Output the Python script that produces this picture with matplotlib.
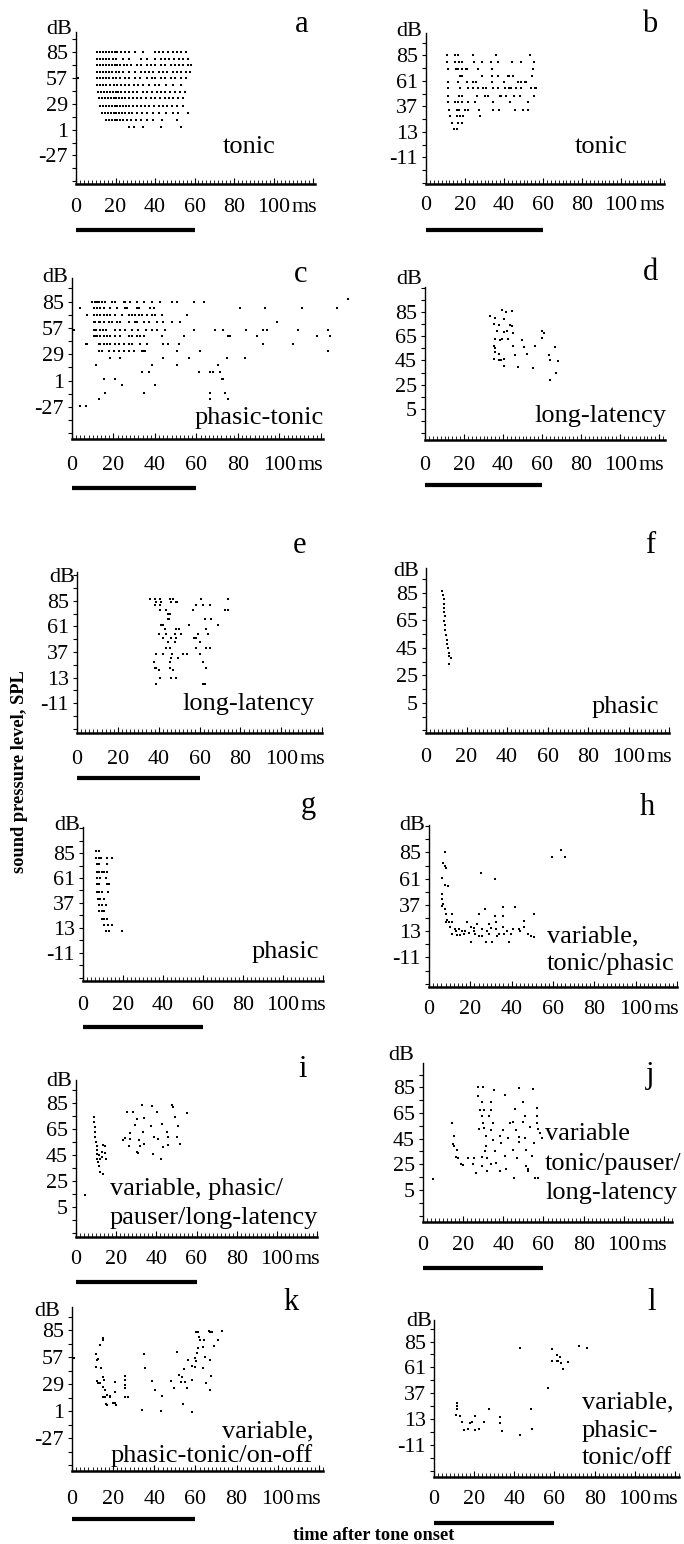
import matplotlib
matplotlib.use("Agg")
import matplotlib.pyplot as plt
from matplotlib.ticker import MultipleLocator
from matplotlib.transforms import blended_transform_factory

plt.rcParams['font.family'] = ['Liberation Serif', 'DejaVu Serif']

# ------------------------------------------------------------------ data
# panel a (tonic): rows of spikes at each SPL level
a_levels = [85, 78, 71, 64, 57, 50, 42, 35, 27, 19, 12, 4]
a_times = [
    [10.5, 12, 13.5, 15, 16.5, 18, 19.5, 21, 23, 25, 27, 30, 34, 40, 42, 44, 46.5, 49, 51, 53, 55.5],
    [10.5, 12, 13.5, 15, 16.5, 18.5, 20.5, 24, 27, 33, 36, 40, 43, 45, 47, 49.5, 52, 54, 56.5],
    [10.5, 12, 13.5, 15, 16.5, 18, 19.5, 21, 22.5, 24.5, 26, 28, 31, 33, 36, 38, 40, 43, 45, 48, 50, 52, 54, 56.5, 58],
    [10.5, 12, 13.5, 15, 16.5, 18, 20, 22, 24, 27, 30, 33, 35, 37, 39, 42, 44, 46, 49, 51, 53, 55.5, 57.5],
    [1, 10.5, 12, 13.5, 15, 16.5, 18.5, 20.5, 22.5, 25, 27, 30, 32.5, 36, 38.5, 40, 43, 45, 48, 50, 53, 55.5],
    [10.5, 12, 13.5, 15, 17, 19, 21, 23, 25, 27, 29.5, 31.5, 34, 37, 40, 42, 45.5, 49, 53],
    [11, 12.5, 14, 15.5, 17, 18.5, 20, 21.5, 23, 25, 27, 29, 31, 34, 36, 38.5, 41, 43, 45, 47.5, 50, 52.5, 55],
    [11.5, 13, 14.5, 16, 17.5, 19, 20.5, 22, 23.5, 25, 27, 29, 31, 33, 35.5, 38, 40, 42.5, 45, 47, 49, 51.5, 54],
    [12, 13.5, 15, 16.5, 18, 19.5, 21, 22.5, 24, 25.5, 27, 29, 31, 33, 35, 37, 39.5, 42, 44, 46, 48.5, 51, 54],
    [13, 14.5, 16, 17.5, 19, 20.5, 22, 23.5, 25, 27, 28.5, 31, 33.5, 36, 39, 42, 45.5, 49, 51.5, 56.5],
    [15, 16.5, 18, 19.5, 21, 22.5, 24, 26, 28, 30.5, 33, 36, 39, 43.5, 51],
    [27, 29.5, 34, 43, 53],
]

# panel b (tonic)
b_levels = [85, 79, 72, 66, 60, 54, 47, 41, 34, 28, 21, 16]
b_times = [
    [10.7, 14.9, 16.6, 24.2, 36.1, 53.1],
    [10.7, 14.9, 16.9, 18.3, 24.7, 28.5, 33.2, 36.9, 44.1, 48.8, 55.3],
    [11.2, 15.3, 16.6, 18.6, 20.3, 20.8, 26.8, 33.9, 54.7],
    [17.5, 18.3, 28.5, 33.9, 36.9, 42, 42.4, 44.6, 54.2],
    [11.5, 16.6, 20.8, 24.2, 25.4, 33.9, 40, 47.1, 48.8, 50.5, 51.4],
    [11.2, 17.5, 21.4, 23.9, 26.8, 29.3, 31, 34.4, 36.9, 40.3, 42.4, 43.7, 46.3, 48.8, 53.6, 55.9, 56.4],
    [11.2, 16.9, 18.3, 25.9, 30.2, 31.9, 37.8, 38.6, 41.2, 45.1, 48, 55.6],
    [11.5, 14.9, 16.6, 18.6, 21.7, 25.1, 34.4, 42.9, 52.2],
    [11.9, 15.8, 16.9, 20, 21.7, 27.1, 34.4, 37.3, 45.4, 49.7, 52.5],
    [12.4, 15.8, 17.5, 19.2, 27.6],
    [13.2, 16.6, 18.6],
    [14.6, 15.8],
]

# panel c (phasic-tonic)
c_levels = [88, 85, 78, 71, 63, 55, 48, 40, 32, 25.5, 17.5, 10.5, 3, -4, -12, -19, -26]
c_times = [
    [133],
    [9.6, 11.2, 12, 12.8, 14.4, 16, 19.3, 20.9, 24.9, 25.7, 28.1, 31.3, 34.5, 38.5, 42.5, 48.2, 50.6, 58.6, 63.4],
    [4, 10.4, 12, 13.6, 15.2, 18.5, 21.7, 25.7, 26.5, 31.3, 32.1, 37.7, 39.3, 81, 93, 110.8, 127.6],
    [7.2, 10.4, 12, 13.6, 15.2, 16.9, 18.5, 20.9, 24.1, 27.3, 28.9, 30.5, 32.1, 33.7, 36.1, 38.5, 40.1, 43.3, 55.4],
    [10.4, 11.2, 12.8, 13.6, 15.2, 17.7, 19.3, 21.7, 23.3, 27.3, 30.5, 31.3, 34.5, 36.9, 40.9, 44.1, 48.2, 52.2, 98.7],
    [1.1, 10.5, 11.8, 13.4, 15, 16.6, 20.7, 23.1, 25.5, 28.7, 31.9, 35.9, 38.4, 40.8, 44.8, 58.6, 69, 73, 84, 92.3, 94, 109, 123.6],
    [10.4, 11.2, 12, 13.6, 15.2, 16.8, 18.5, 20.9, 23.3, 27.3, 28.9, 31.3, 32.9, 34.5, 43.3, 53.8, 75.4, 76.2, 89, 118, 124.4],
    [6.6, 7.2, 12.8, 13.6, 15.2, 16.8, 18.5, 20.9, 22.5, 24.9, 27.3, 28.9, 32.9, 36.1, 44.1, 46.5, 51.4, 92.3, 106.7],
    [12.8, 14.4, 17.7, 20.1, 22.5, 24.9, 27.3, 29.7, 33.7, 34.5, 35.3, 50.6, 61.5, 123.6],
    [18.5, 23.3, 44.1, 56.2, 74.6, 83.5],
    [11.7, 38.5, 50.6, 70.6],
    [33.7, 36.9, 61, 66.6, 68.2, 71.4],
    [15.2, 20.9, 72.2, 73],
    [24.1, 40.1],
    [16, 34.5, 66.6, 73.8],
    [12.8, 66.6, 75],
    [4, 6.9],
]

# panel d (long-latency)
d_ms = [33.4, 35.7, 39.5, 41.5, 44.6, 35.2, 37.7, 40.3, 43.7, 44.6, 36.9, 40.3, 42, 44.9, 36, 38.6, 39.5,
        42.5, 49.7, 60, 60.9, 60, 35.2, 36, 44.9, 50.6, 56.3, 66.6, 36, 37.7, 46.3, 52.3, 63.5, 35.2, 37.7,
        39.1, 40.3, 40.3, 47.7, 55.2, 64.3, 68.3, 66.9, 64.3]
d_db = [81.3, 80, 86.4, 85, 85.6, 75, 74, 79.3, 74.4, 73.6, 69.3, 68.4, 69.3, 67.9, 63, 62, 63,
        63, 61.6, 69.3, 67.9, 63.6, 57.3, 55, 57.3, 56.4, 57.3, 55.9, 52, 50.7, 49.9, 50.7, 49.9, 46.4, 45.6,
        45, 46.4, 40.7, 39.3, 38.4, 45.6, 44.4, 34.4, 28.7]

# panel e (long-latency)
e_levels = [87, 84, 81, 76, 73, 68, 62, 59, 54, 50, 46, 41, 35, 31, 28, 22, 20, 13, 7]
e_times = [
    [35.9, 38, 40.5, 45.4, 47, 60.8, 73.9],
    [38.8, 41.3, 46.2, 48.3, 49],
    [38, 40.5, 58.4, 61.7, 64.9],
    [40.5, 43.7, 56.8, 72.3, 73.9],
    [44.5, 45.4],
    [44.5, 45, 62.5, 65.7],
    [41.3, 42.1, 55.1, 69],
    [42.9, 48.6, 50.2, 63.3],
    [40.1, 43.7, 47.8, 51.1, 59.2, 64.1],
    [42.1, 46.2, 48.3, 57.1, 58.4],
    [44.5, 47.8, 60],
    [43.4, 45.4, 58.4, 63, 64.9],
    [38.8, 42.1, 46.7, 51.9, 53.8, 60],
    [46.2, 49.4],
    [37.5, 45.4, 61.7],
    [38, 38.8, 45.7, 63],
    [40.1, 47],
    [40.5, 46.2, 48.3],
    [38.8, 61.7, 62.5],
]

# panel f (phasic)
f_ms = [7.9, 8.4, 8.8, 9.1, 9.1, 9.1, 9.4, 9.1, 9.6, 9.6, 9.9, 10.2, 10.6, 10.9, 11.2, 11.6, 12.1, 11.6]
f_db = [86.2, 83.3, 80.1, 76.9, 74, 71.1, 67.9, 64.8, 61.8, 58.2, 54.6, 50.9, 47.7, 44.8, 41.2, 38.8, 37.6, 33]

# panel g (phasic)
g_levels = [87, 80, 74, 67, 61, 55, 48, 41, 35, 29, 22, 16, 10]
g_times = [[6.7, 8.1], [6.7, 7.8, 8.8, 11.8, 14.3], [7.1, 8.1, 11.8], [7.1, 8.1, 9.3, 10.5, 12.1],
           [7.1, 8.4, 11.5], [7.1, 8.1, 12.1, 13.2], [7.1, 8.1, 9.3, 12.6], [7.6, 8.4, 10.5],
           [8.1, 9.3, 11.5], [8.1, 9.3, 10.5], [9.3, 10.5, 12.1], [10.5, 12.6, 14.3], [11.5, 13.2, 19.4]]

# panel h (variable, tonic/phasic)
h_ms = [7.8, 7, 7.8, 8.2, 6.2, 7.8, 9.1, 6.5, 6.2, 7, 6.2, 7.8, 8.2, 11.1, 8.6, 9.5, 11.1, 8.2, 10.3, 12.7,
        14.7, 16, 18.4, 20.1, 11.1, 13.5, 15.2, 16.8, 19.2, 21.7, 22.5, 24.1, 20.1, 25.8, 24.1, 25.4, 27.1,
        27.4, 25.8, 29, 30.7, 32, 32.3, 32.6, 33.1, 32, 35.9, 35.9, 35.9, 36.4, 38.8, 39.6, 40.5, 41.8, 43.4,
        46.2, 46.2, 47.8, 49.4, 51, 51, 34, 29, 23.3, 59.7, 64.1, 65.7, 13, 17.5, 28, 37.5, 44, 30, 22]
h_db = [85.6, 74.9, 72.4, 70.3, 62, 55, 54, 47.3, 42.7, 38, 35.6, 33.5, 28.3, 28.3, 23.3, 21.2, 21.2, 21.2,
        16.6, 15, 15, 13.5, 21.2, 16.6, 10.5, 9.8, 9.8, 10.5, 11.1, 13.5, 10.5, 8.9, 2.8, 15, 28.8, 65.7, 33.5,
        2.8, 8.9, 10.5, 2.8, 27.3, 21.2, 15, 8.9, 61, 35, 27.3, 16.6, 10.5, 2.8, 10.5, 15, 35, 15, 22.7, 16.6,
        10.5, 8.9, 8, 28.8, 10.5, 19.7, 19.7, 81, 87.1, 80.4, 13, 13, 13, 13, 13, 16, 16]

# panel i (variable, phasic/pauser/long-latency)
i_ms = [9, 9.1, 9.5, 9.5, 9.5, 10, 10.3, 10.6, 10.3, 10.6, 11.1, 11.6, 11.9, 13.3, 11.6, 11.9, 12.8, 13.6,
        14.4, 14.4, 14.9, 12.8, 4.5, 25.2, 28.2, 32.7, 37.6, 40.1, 47.6, 48.4, 55.1, 30.2, 33.7, 49.3, 29.5,
        37.1, 42.6, 50.9, 26.9, 33.5, 45.1, 23.2, 24.4, 26.9, 31.5, 38.8, 40.9, 45.6, 50.1, 26.5, 31.8, 33.8,
        43.4, 45.9, 51.7, 30.2, 31, 38.5, 42.1]
i_db = [74.2, 70.8, 66.4, 63.1, 59.2, 55.3, 52, 48.9, 45.8, 42.4, 39.8, 36.5, 32.1, 30.3, 45, 42.4, 47.6, 52.7,
        52, 46.8, 42.4, 43.7, 14, 78.5, 78.5, 83.7, 82.9, 78.5, 83.7, 82.4, 77.8, 72.6, 73.4, 74.2, 68.2,
        67.5, 69, 67.5, 62.3, 63.1, 63.1, 57.1, 58.4, 57.9, 56.6, 58.7, 57.9, 58.7, 59.2, 52, 52, 53.5,
        51.5, 52.7, 53.5, 47.6, 46.8, 46.3, 42.4]

# panel j (variable tonic/pauser/long-latency)
j_ms = [4.9, 14.6, 15.5, 15, 15.5, 17.1, 16.6, 17.5, 18.8, 20, 22.2, 24.7, 26.4, 25.6, 27.2, 29.7, 27.2, 29.4,
        28.3, 30.5, 29.4, 27.9, 29.7, 30.6, 31.4, 31.4, 31.1, 29.4, 31.8, 29.4, 31.8, 33.9, 33.9, 33.1, 34.8,
        33.9, 34.8, 36.1, 33.9, 35.6, 38.2, 39, 39.8, 40.7, 40.7, 41.5, 42.4, 43.2, 44.9, 44.9, 45.4, 46.3,
        45.9, 47.6, 47.6, 47.6, 46.6, 49.6, 50, 50.8, 50.8, 51.3, 51.3, 52.4, 52.4, 53.3, 54.1, 55, 55.3,
        55.8, 56.6, 56.6, 57.5, 57.5, 58.3, 59.2, 56.6, 36.5, 38.2]
j_db = [13.3, 57.1, 47.3, 41.1, 39.6, 36, 30.8, 30, 24.9, 24.1, 30, 24.9, 18.4, 30, 85.5, 85, 78.3, 73.9,
        67.5, 67.5, 62.8, 52.5, 57.1, 53.3, 46.8, 39.1, 35.2, 30.8, 30, 23.9, 19.7, 73.9, 67.5, 62.3, 57.1,
        52, 44.2, 35.2, 24.9, 82.9, 46.8, 41.6, 52, 79, 31.3, 21, 45.5, 57.1, 57.6, 36.5, 14.5, 52,
        67.9, 84.2, 46.3, 42.2, 30, 73.9, 57.6, 62.8, 45.5, 36.5, 23.6, 21, 19.7, 54, 31.3, 83.5, 41.6,
        14.5, 68.7, 62.8, 52.5, 14.5, 49.4, 45.5, 57.1, 26.2, 19.7]

# panel k (variable, phasic-tonic/on-off)
k_ms = [1.1, 11.7, 12, 12.5, 11.7, 13.6, 15.2, 15.2, 13.9, 12, 12.8, 13.6, 15.2, 15.5, 15.2, 16, 14.9, 16,
        16.8, 18.4, 20.8, 16.5, 17.1, 20, 20.8, 21.6, 18.4, 20.8, 25.6, 25.6, 25.6, 25.6, 25.6, 27.2,
        35.2, 35.7, 33.9, 38.9, 40.5, 43.2, 43.7,
        48, 49.6, 51.2, 52, 52.8, 53.3, 53.9, 54.4, 54.9, 56, 56.5, 58.1, 58.1, 58.4, 60, 60, 60.3, 60.8,
        61.3, 60.3, 61.3, 61.6, 62.4, 64, 63.5, 63.5, 65.1, 66.4, 67.2, 68, 68.8, 67.2, 67.7, 66.9, 71.2,
        73.1, 64.5]
k_db = [55.7, 60.2, 54, 54.7, 46.4, 69.5, 76.4, 74.7, 45.3, 32.6, 30.5, 30.5, 36.7, 33.3, 25.7, 22.9, 16, 16,
        17.8, 16, 21.2, 8.4, 7.4, 9.1, 9.8, 7.4, 16.7, 31.6, 37.4, 33.3, 28.1, 24.7, 16, 15.3,
        60.2, 45.3, 2.2, 32.6, 22.9, 1.6, 16.7,
        32.6, 24.7, 62.6, 38.4, 31.6, 36.7, 8.4, 44.3, 31.6, 24.7, 54, 47.8, 33.3, 0.5, 46.4, 55.7, 53.3, 60.9,
        66, 83.3, 83.3, 77.4, 75.3, 75.3, 67.8, 45.3, 29.8, 84.3, 83.3, 83.3, 68.4, 54, 37.4, 22.9, 75.3,
        84.3, 57.4]

# panel l (variable, phasic-tonic/off)
l_ms = [11.5, 11.5, 11.5, 11, 12.7, 14, 14.8, 16.9, 18.1, 18.9, 20.6, 20.6, 22.5, 24.7, 27.5, 32.9, 32.9,
        33.7, 42.8, 42.8, 48.2, 48.8, 56.7, 58.7, 61.3, 61.7, 62.5, 63.3, 61.3, 58.7, 64.1, 66.9, 72.4, 76.2]
l_db = [27.6, 25.2, 22.7, 16.6, 16, 10.5, 3.1, 3.7, 9.2, 10.5, 16, 3.1, 3.7, 9.8, 22.7, 14.4, 9.2, 2.2, -2.4,
        78.9, 22.7, 3.7, 42.1, 77.9, 72.7, 66.6, 70.6, 65.1, 66.6, 66.6, 59.5, 65.7, 80.4, 78.9]

# y-axis labels per panel
labels_28 = [85, 57, 29, 1, -27]
labels_24 = [85, 61, 37, 13, -11]
labels_20 = [85, 65, 45, 25, 5]
x_labels = [0, 20, 40, 60, 80, 100]
stim_on, stim_off = 0, 60

descriptors = {
    'a': ['tonic'], 'b': ['tonic'], 'c': ['phasic-tonic'], 'd': ['long-latency'],
    'e': ['long-latency'], 'f': ['phasic'], 'g': ['phasic'],
    'h': ['variable,', 'tonic/phasic'],
    'i': ['variable, phasic/', 'pauser/long-latency'],
    'j': ['variable', 'tonic/pauser/', 'long-latency'],
    'k': ['variable,', 'phasic-tonic/on-off'],
    'l': ['variable,', 'phasic-', 'tonic/off'],
}


def rows_to_points(levels, times):
    xs, ys = [], []
    for lv, ts in zip(levels, times):
        xs.extend(ts)
        ys.extend([lv] * len(ts))
    return xs, ys


points = {
    'a': rows_to_points(a_levels, a_times),
    'b': rows_to_points(b_levels, b_times),
    'c': rows_to_points(c_levels, c_times),
    'd': (d_ms, d_db),
    'e': rows_to_points(e_levels, e_times),
    'f': (f_ms, f_db),
    'g': rows_to_points(g_levels, g_times),
    'h': (h_ms, h_db),
    'i': (i_ms, i_db),
    'j': (j_ms, j_db),
    'k': (k_ms, k_db),
    'l': (l_ms, l_db),
}
ylabels = {'a': labels_28, 'b': labels_24, 'c': labels_28, 'd': labels_20, 'e': labels_24,
           'f': labels_20, 'g': labels_24, 'h': labels_24, 'i': labels_20, 'j': labels_20,
           'k': labels_28, 'l': labels_24}

# ------------------------------------------------------------------ layout (pixels)
W, H, DPI = 684, 1544, 100
# left, bottom, top, width, xmax, ylo, yhi, xlabel pad, bar y, dB dx, dB dy
layout = {
    'a': (76, 184, 32, 239, 121, -58, 107, 14, 230, -4, 2),
    'b': (426, 184, 33, 238, 122, -36, 106, 11.5, 230, -4, 2),
    'c': (72, 439, 278, 251, 121, -61, 110, 16.5, 488, -4, 0),
    'd': (425, 440, 287, 240, 123, -20.5, 105.5, 15.5, 485, -3, 7),
    'e': (77, 733, 572, 245, 120, -39, 112, 16.5, 778, -2, -5),
    'f': (426, 733, 568, 243, 120, -17, 103, 14.5, None, -7, -4),
    'g': (83, 981, 827, 240, 120, -38, 110, 14.5, 1027, -3, 1),
    'h': (429, 987, 825, 248, 120, -38, 110, 12.5, None, -4, 0),
    'i': (76, 1237, 1080, 241, 120, -18, 103, 12.5, 1282, -4, -2),
    'j': (423, 1222, 1063, 249, 124, -20, 104, 13.5, 1268, -9, 8),
    'k': (72, 1471, 1307, 251, 122, -61, 109, 19.5, 1519, -12, -5),
    'l': (434, 1477, 1320, 245, 122, -41, 105, 12.5, 1523, -2, -1),
}
letter_pos = {'a': (302, 32), 'b': (650, 32), 'c': (301, 282), 'd': (650, 280), 'e': (300, 553),
              'f': (650, 553), 'g': (308, 813), 'h': (647, 815), 'i': (303, 1077), 'j': (650, 1083),
              'k': (291, 1310), 'l': (652, 1310)}
# (x, ha, [baselines])
desc_pos = {
    'a': (223, 'left', [153]), 'b': (575, 'left', [153]), 'c': (195, 'left', [424]),
    'd': (534, 'left', [422]), 'e': (182, 'left', [710]), 'f': (592, 'left', [713]),
    'g': (252, 'left', [958]), 'h': (547, 'left', [942, 970]), 'i': (110, 'left', [1195, 1224]),
    'j': (545, 'left', [1140, 1170, 1199]), 'k': (313, 'right', [1437, 1462]),
    'l': (582, 'left', [1408, 1437, 1464]),
}

TICK_FS = 15.8
DESC_FS = 19
LET_FS = 22
DB_FS = 16


def pt(px):
    return px * 72.0 / DPI


fig = plt.figure(figsize=(W / DPI, H / DPI), dpi=DPI)
fig.patch.set_facecolor('white')


def ftext(x, y, s, **kw):
    fig.text(x / W, 1 - y / H, s, **kw)


for key in 'abcdefghijkl':
    left, bottom, top, width, xmax, ylo, yhi, xpad, bar_y, dbx, dby = layout[key]
    height = bottom - top
    ax = fig.add_axes([left / W, 1 - bottom / H, width / W, height / H])
    ax.set_xlim(0, xmax)
    ax.set_ylim(ylo, yhi)
    ax.patch.set_alpha(0)
    xs, ys = points[key]
    ax.scatter(xs, ys, s=4.2, marker='s', c='black', linewidths=0, clip_on=False, zorder=3)

    for s in ('top', 'right'):
        ax.spines[s].set_visible(False)
    ax.spines['left'].set_linewidth(1.0)
    ax.spines['bottom'].set_linewidth(1.8)

    labs = ylabels[key]
    step = labs[0] - labs[1]
    yt = []
    v = labs[-1] - step
    while v <= yhi:
        if v >= ylo:
            yt.append(v)
        v += step / 2
    ax.set_yticks(yt)
    ax.set_yticklabels([str(int(t)) if t in labs else '' for t in yt])
    ax.tick_params(axis='y', direction='out', length=pt(4), width=0.8, pad=pt(4),
                   labelsize=TICK_FS)

    xt = list(range(0, int(xmax) + 1, 20))
    ax.set_xticks(xt)
    ax.set_xticklabels([str(t) if t in x_labels else '' for t in xt])
    ax.xaxis.set_minor_locator(MultipleLocator(2))
    ax.tick_params(axis='x', which='major', direction='in', length=pt(6), width=0.8,
                   pad=pt(xpad), labelsize=TICK_FS)
    ax.tick_params(axis='x', which='minor', direction='in', length=pt(4), width=0.6)

    ax.annotate('ms', xy=(x_labels[-1], 0), xycoords=('data', 'axes fraction'),
                xytext=(18, -xpad), textcoords='offset pixels', ha='left', va='top',
                fontsize=TICK_FS)
    ax.annotate('dB', xy=(0, 1), xycoords='axes fraction', xytext=(dbx, dby),
                textcoords='offset pixels', ha='right', va='center', fontsize=DB_FS)

    if bar_y is not None:
        tr = blended_transform_factory(ax.transData, ax.transAxes)
        yb = -(bar_y - bottom) / height
        ax.plot([stim_on, stim_off], [yb, yb], color='black', lw=pt(4.2),
                solid_capstyle='butt', transform=tr, clip_on=False)

    lx, ly = letter_pos[key]
    ftext(lx, ly, key, ha='center', va='baseline', fontsize=LET_FS)
    dx, ha, bases = desc_pos[key]
    for line, by in zip(descriptors[key], bases):
        ftext(dx, by, line, ha=ha, va='baseline', fontsize=DESC_FS)

ftext(20, 772, 'sound pressure level, SPL', rotation=90, ha='center', va='center',
      fontsize=13.2, fontweight='bold')
ftext(374, 1535, 'time after tone onset', ha='center', va='center', fontsize=13.2,
      fontweight='bold')

fig.savefig('out.png', dpi=DPI, facecolor='white')
